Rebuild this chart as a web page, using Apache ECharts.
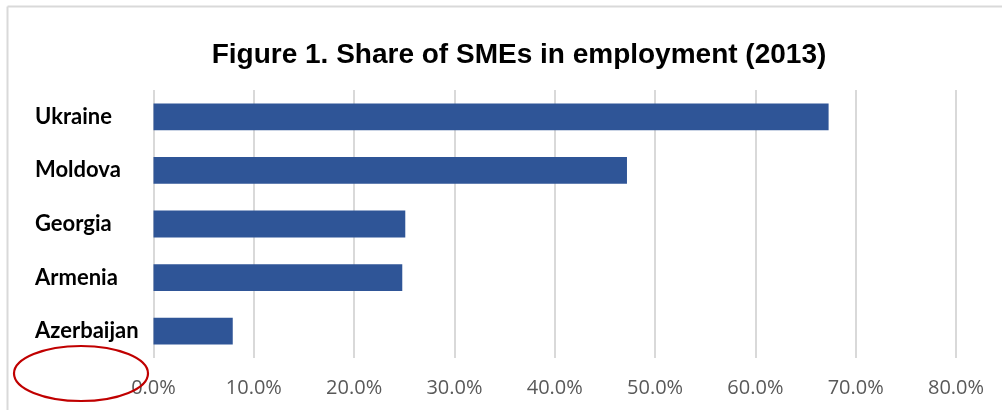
<!DOCTYPE html>
<html><head><meta charset="utf-8">
<script src="https://cdn.jsdelivr.net/npm/echarts@6/dist/echarts.min.js"></script>
<style>html,body{margin:0;padding:0;background:#fff}#c{width:1002px;height:410px}</style>
</head><body><div id="c"></div>
<script>
const titleText = 'Figure 1. Share of SMEs in employment (2013)';
const categories = ['Azerbaijan', 'Armenia', 'Georgia', 'Moldova', 'Ukraine'];
const shareValues = [0.079, 0.248, 0.251, 0.472, 0.673];
const xTicks = [0, 0.1, 0.2, 0.3, 0.4, 0.5, 0.6, 0.7, 0.8];

const chart = echarts.init(document.getElementById('c'), null, {renderer: 'canvas'});
chart.setOption({
  animation: false,
  backgroundColor: '#fff',
  title: {
    text: titleText, left: 514, top: 36, textAlign: 'center',
    textStyle: {fontFamily: 'Liberation Sans', fontWeight: 'bold', fontSize: 28, color: '#000'}
  },
  grid: {left: 153.5, right: 46, top: 90, bottom: 52, containLabel: false},
  xAxis: {
    type: 'value', min: xTicks[0], max: xTicks[xTicks.length - 1], interval: 0.1,
    axisLine: {show: false}, axisTick: {show: false},
    splitLine: {lineStyle: {color: '#d9d9d9', width: 2}},
    axisLabel: {
      formatter: v => (v * 100).toFixed(1) + '%',
      color: '#595959', fontFamily: 'Open Sans', fontSize: 20, margin: 20
    }
  },
  yAxis: {
    type: 'category', data: categories,
    axisLine: {show: false}, axisTick: {show: false},
    axisLabel: {
      align: 'left', margin: 118.5,
      color: '#000', fontFamily: 'Lato', fontWeight: 'bold', fontSize: 22
    }
  },
  series: [{
    type: 'bar', data: shareValues, barCategoryGap: '50%',
    itemStyle: {color: '#2f5597'}
  }],
  graphic: [
    {type: 'line', shape: {x1: 7.5, y1: 6.5, x2: 1002, y2: 6.5}, style: {stroke: '#d9d9d9', lineWidth: 2}, z: 10},
    {type: 'line', shape: {x1: 7.5, y1: 6.5, x2: 7.5, y2: 410}, style: {stroke: '#d9d9d9', lineWidth: 2}, z: 10},
    {type: 'ellipse', shape: {cx: 81, cy: 373.5, rx: 67, ry: 27.5}, style: {fill: 'none', stroke: '#c00000', lineWidth: 2.2}, z: 20}
  ]
});
</script></body></html>
